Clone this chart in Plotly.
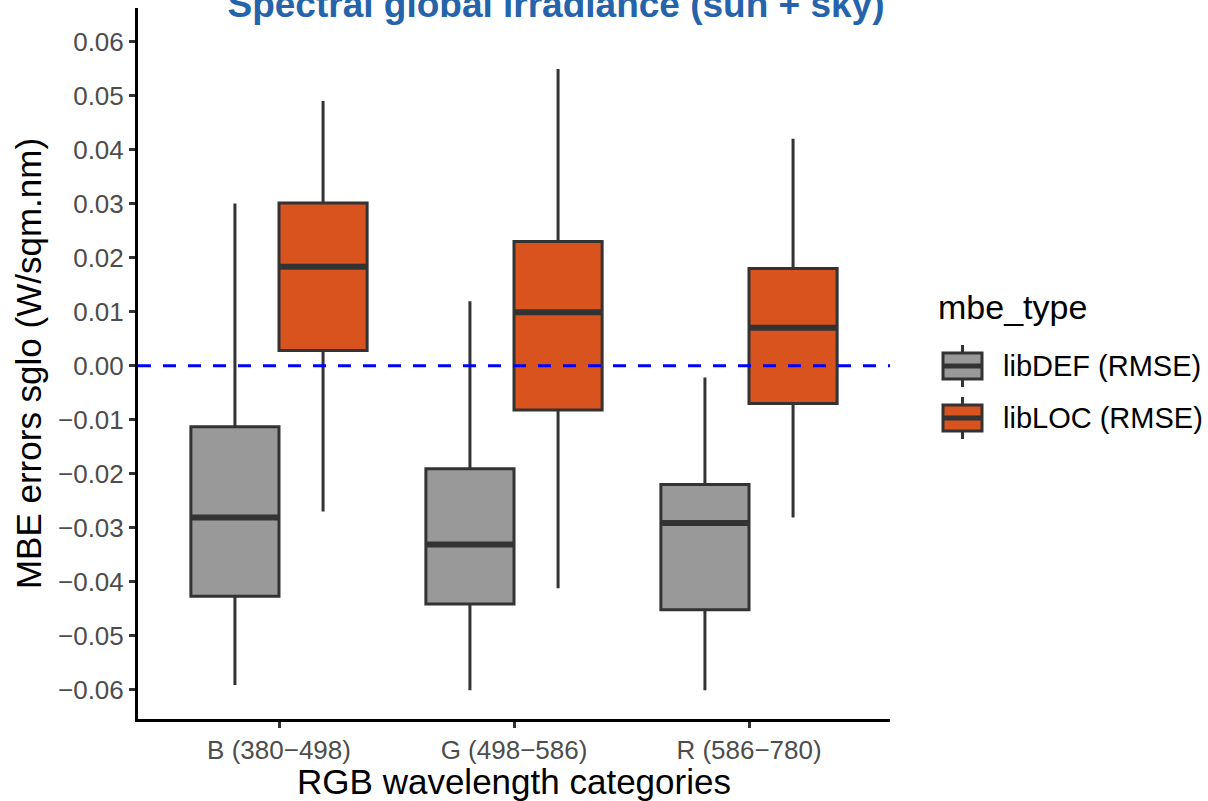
import plotly.graph_objects as go

# Wavelength categories on the x axis
categories = ["B (380\u2212498)", "G (498\u2212586)", "R (586\u2212780)"]
series_names = ["libDEF (RMSE)", "libLOC (RMSE)"]

# Box statistics per category: lower whisker, Q1, median, Q3, upper whisker
def_low = [-0.0591, -0.0601, -0.0601]
def_q1 = [-0.0427, -0.0441, -0.0452]
def_med = [-0.0281, -0.0331, -0.0291]
def_q3 = [-0.0113, -0.0191, -0.0220]
def_high = [0.0300, 0.0119, -0.0022]

loc_low = [-0.0270, -0.0412, -0.0281]
loc_q1 = [0.0028, -0.0082, -0.0070]
loc_med = [0.0183, 0.0099, 0.0070]
loc_q3 = [0.0301, 0.0230, 0.0180]
loc_high = [0.0490, 0.0549, 0.0420]

y_ticks = [-0.06, -0.05, -0.04, -0.03, -0.02, -0.01, 0.0, 0.01, 0.02, 0.03, 0.04, 0.05, 0.06]

FONT = "Liberation Sans, Arial, sans-serif"
EDGE = "#333333"
fills = ["#999999", "#D9531E"]
stats = [
    (def_low, def_q1, def_med, def_q3, def_high),
    (loc_low, loc_q1, loc_med, loc_q3, loc_high),
]

W, H = 1208, 801
M_L, M_R, M_T, M_B = 138, 318, 8, 82
PW, PH = W - M_L - M_R, H - M_T - M_B


def px_x(px):
    """pixel column -> paper x"""
    return (px - M_L) / PW


def px_y(py):
    """pixel row -> paper y"""
    return (H - M_B - py) / PH


dodge = 0.75
box_w = dodge / len(series_names)

fig = go.Figure()
for s, (name, fill, (lo, q1, med, q3, hi)) in enumerate(zip(series_names, fills, stats)):
    offset = -dodge / 2 + box_w * (s + 0.5)
    xs = [i + offset for i in range(len(categories))]
    fig.add_trace(go.Box(
        x=xs, q1=q1, median=med, q3=q3, lowerfence=lo, upperfence=hi,
        width=box_w, name=name, fillcolor=fill,
        line=dict(color=EDGE, width=3), whiskerwidth=0,
        boxpoints=False, hoverinfo="skip", showlegend=False,
    ))
    # thicker median bar drawn over each box
    mx, my = [], []
    for x, m in zip(xs, med):
        mx += [x - box_w / 2, x + box_w / 2, None]
        my += [m, m, None]
    fig.add_trace(go.Scatter(
        x=mx, y=my, mode="lines", line=dict(color=EDGE, width=6),
        showlegend=False, hoverinfo="skip",
    ))

# zero reference line
fig.add_shape(type="line", xref="paper", yref="y", x0=0, x1=1, y0=0, y1=0,
              line=dict(color="#0000FF", width=3, dash="13px,12px"), layer="above")

# legend: title, boxplot keys and labels
annotations = [dict(
    text="mbe_type", xref="paper", yref="paper", x=px_x(936), y=px_y(307),
    xanchor="left", yanchor="middle", showarrow=False,
    font=dict(size=34, color="black", family=FONT),
)]
key_l, key_r = 943, 982
key_c = (key_l + key_r) / 2
for k, (name, fill) in enumerate(zip(series_names, fills)):
    cy = 366 + 52 * k
    fig.add_shape(type="line", xref="paper", yref="paper",
                  x0=px_x(key_c), x1=px_x(key_c), y0=px_y(cy - 21), y1=px_y(cy + 21),
                  line=dict(color=EDGE, width=3))
    fig.add_shape(type="rect", xref="paper", yref="paper",
                  x0=px_x(key_l), x1=px_x(key_r), y0=px_y(cy - 13), y1=px_y(cy + 13),
                  fillcolor=fill, line=dict(color=EDGE, width=3))
    fig.add_shape(type="line", xref="paper", yref="paper",
                  x0=px_x(key_l), x1=px_x(key_r), y0=px_y(cy), y1=px_y(cy),
                  line=dict(color=EDGE, width=5))
    annotations.append(dict(
        text=name, xref="paper", yref="paper", x=px_x(1001), y=px_y(cy),
        xanchor="left", yanchor="middle", showarrow=False,
        font=dict(size=29, color="black", family=FONT),
    ))

fig.update_layout(
    width=W, height=H,
    margin=dict(l=M_L, r=M_R, t=M_T, b=M_B),
    paper_bgcolor="white", plot_bgcolor="white",
    font=dict(family=FONT, color="black"),
    title=dict(
        text="<b>Spectral global irradiance (sun + sky)</b>",
        font=dict(size=37, color="#2563AA", family=FONT),
        x=556 / W, xanchor="center", xref="container",
        y=1 - 4 / H, yanchor="middle", yref="container",
    ),
    showlegend=False,
    annotations=annotations,
    xaxis=dict(
        range=[-0.6, 2.6], tickmode="array",
        tickvals=list(range(len(categories))), ticktext=categories,
        showline=True, linecolor="black", linewidth=3,
        ticks="outside", ticklen=6, tickwidth=2.6, tickcolor=EDGE,
        tickfont=dict(size=26, color="#4D4D4D"),
        showgrid=False, zeroline=False, automargin=False,
        title=dict(text="RGB wavelength categories", font=dict(size=35, color="black"), standoff=7),
    ),
    yaxis=dict(
        range=[-0.0654, 0.0662], tickmode="array",
        tickvals=y_ticks, ticktext=[f"{v:.2f}".replace("-", "\u2212") for v in y_ticks],
        showline=True, linecolor="black", linewidth=3,
        ticks="outside", ticklen=6, tickwidth=2.6, tickcolor=EDGE,
        tickfont=dict(size=26, color="#4D4D4D"),
        showgrid=False, zeroline=False, automargin=False,
        title=dict(text="MBE errors sglo (W/sqm.nm)", font=dict(size=35, color="black"), standoff=6),
    ),
)

fig.write_html("out.html")
